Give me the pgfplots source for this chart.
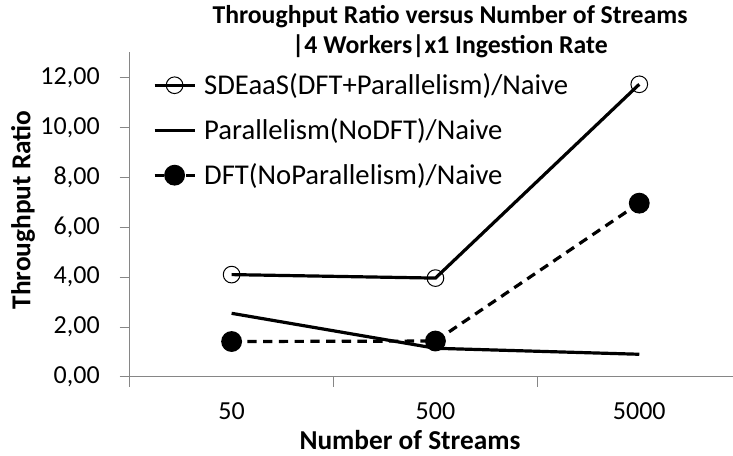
\documentclass[border=0pt]{standalone}
\usepackage{fontspec}
\setmainfont{Carlito}
\usepackage{pgfplots}
\pgfplotsset{compat=1.18}
\definecolor{axgray}{RGB}{134,134,134}
\newcommand{\fs}{\fontsize{19.5}{23}\selectfont}
\newcommand{\fl}{\fontsize{21.5}{25}\selectfont}
\newcommand{\fa}{\fontsize{20.5}{24}\selectfont}
\newcommand{\fst}{\fontsize{19.3}{22.5}\selectfont}
\begin{document}
\begin{tikzpicture}[x=0.75pt,y=0.75pt]
\path[use as bounding box] (0,0) rectangle (733,456);
\begin{axis}[
  at={(97.275pt,59.25pt)}, anchor=south west,
  scale only axis, width=452.5pt, height=243.5pt,
  xmin=-0.5, xmax=2.46, ymin=0, ymax=13,
  axis lines*=left,
  axis line style={axgray, line width=0.75pt},
  tick style={axgray, line width=0.75pt},
  tick align=outside, major tick length=7.5pt,
  ytick={0,2,4,6,8,10,12},
  xtick={-0.5,0.5,1.5}, xticklabels={,,},
  extra x ticks={0,1,2}, extra x tick labels={50,500,5000},
  extra x tick style={major tick length=0pt},
  xticklabel style={font=\fs, text=black, anchor=north, inner sep=0pt, yshift=-19.2pt},
  yticklabel style={font=\fs, text=black, anchor=east, inner sep=0pt, xshift=-14.8pt,
    /pgf/number format/.cd, fixed, fixed zerofill, precision=2, use comma, assume math mode=true},
  legend style={draw=none, fill=none, font=\fl, inner sep=0pt, outer sep=0pt,
    at={(rel axis cs:0.0386,0.934)}, anchor=north west, row sep=16.5pt,
    nodes={inner sep=0pt}, column sep=6pt},
  legend cell align=left,
  legend image code/.code={\draw[mark repeat=2,mark phase=2,#1] plot coordinates {(0pt,0pt) (15pt,0pt) (30pt,0pt)};},
  clip=false,
]
\addplot[black, line width=2.4pt, mark=o, mark size=6.25pt, mark options={line width=0.75pt, solid}]
  coordinates {(0,4.10) (1,3.96) (2,11.72)};
\addlegendentry{SDEaaS(DFT+Parallelism)/Naive}
\addplot[black, line width=2.4pt]
  coordinates {(0,2.55) (1,1.15) (2,0.91)};
\addlegendentry{Parallelism(NoDFT)/Naive}
\addplot[black, line width=2.4pt, dash pattern=on 7pt off 4.8pt, mark=*, mark size=6.6pt, mark options={solid}]
  coordinates {(0,1.42) (1,1.44) (2,6.96)};
\addlegendentry{DFT(NoParallelism)/Naive}
\end{axis}
\node[font=\fst\bfseries, align=center] at (450,424) {Throughput Ratio versus Number of Streams\\|4 Workers|x1 Ingestion Rate};
\node[font=\fa\bfseries, rotate=90] at (23,246) {Throughput Ratio};
\node[font=\fa\bfseries] at (410,16) {Number of Streams};
\end{tikzpicture}
\end{document}
